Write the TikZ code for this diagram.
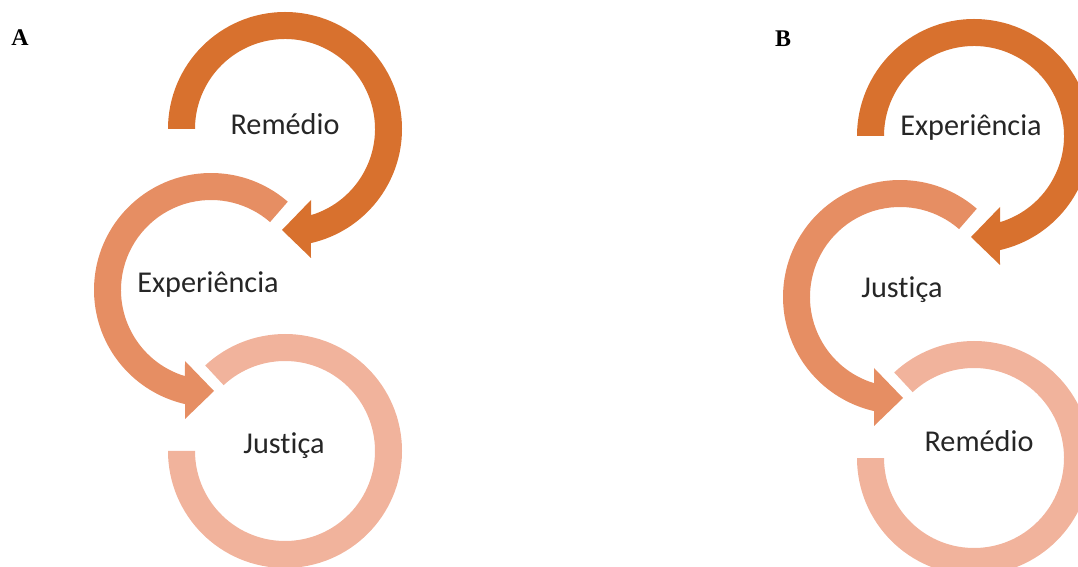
\documentclass[tikz,border=0pt]{standalone}
\usepackage{fontspec}
\setmainfont{Carlito}[Ligatures={NoCommon,NoContextual}]
\newfontfamily\tagfont{Liberation Serif}
\usepackage{xcolor}
\definecolor{ringdark}{RGB}{216,113,46}
\definecolor{ringmid}{RGB}{230,142,99}
\definecolor{ringlight}{RGB}{241,179,156}

\begin{document}
\begin{tikzpicture}[x=0.025cm, y=0.025cm,
  first/.style={fill=ringdark},
  second/.style={fill=ringmid},
  third/.style={fill=ringlight},
  word/.style={font=\fontsize{21.5}{26}\selectfont, text=black!85, anchor=base, inner sep=0pt},
  tag/.style={font=\tagfont\bfseries\fontsize{17}{20}\selectfont, inner sep=0pt}
]
\useasboundingbox (0,0) rectangle (1078,566);
\clip (0,0) rectangle (1078,566);

% ring centres
\coordinate (topA) at (285,437);
\coordinate (midA) at (211,276);
\coordinate (lowA) at (285,115);
\coordinate (topB) at (974,430);
\coordinate (midB) at (900,269);
\coordinate (lowB) at (974,108);

% panel A
\fill[first, shift={(topA)}] (180:117) arc[start angle=180, end angle=-77.2, radius=117]
  -- (26,-129) -- (-3,-101) -- (26,-71) -- (-73.2:90)
  arc[start angle=-73.2, end angle=180, radius=90] -- cycle;
\fill[second, shift={(midA)}] (49:117) arc[start angle=49, end angle=257.2, radius=117]
  -- (-26,-129) -- (3,-101) -- (-26,-71) -- (253.2:90)
  arc[start angle=253.2, end angle=49, radius=90] -- cycle;
\fill[third, shift={(lowA)}] (180:117) arc[start angle=180, end angle=493, radius=117]
  -- (493:90) arc[start angle=493, end angle=180, radius=90] -- cycle;

\node[tag] (tagA) at (20,528) {A};
\node[word] (remA) at (285,431) {Remédio};
\node[word] (expA) at (208,273) {Experiência};
\node[word] (jusA) at (284,112) {Just\kern0pt iça};

% panel B
\fill[first, shift={(topB)}] (180:117) arc[start angle=180, end angle=-77.2, radius=117]
  -- (26,-129) -- (-3,-101) -- (26,-71) -- (-73.2:90)
  arc[start angle=-73.2, end angle=180, radius=90] -- cycle;
\fill[second, shift={(midB)}] (49:117) arc[start angle=49, end angle=257.2, radius=117]
  -- (-26,-129) -- (3,-101) -- (-26,-71) -- (253.2:90)
  arc[start angle=253.2, end angle=49, radius=90] -- cycle;
\fill[third, shift={(lowB)}] (180:117) arc[start angle=180, end angle=493, radius=117]
  -- (493:90) arc[start angle=493, end angle=180, radius=90] -- cycle;

\node[tag] (tagB) at (783,527) {B};
\node[word] (expB) at (971,430) {Experiência};
\node[word] (jusB) at (902,268) {Just\kern0pt iça};
\node[word] (remB) at (979,114) {Remédio};
\end{tikzpicture}
\end{document}
